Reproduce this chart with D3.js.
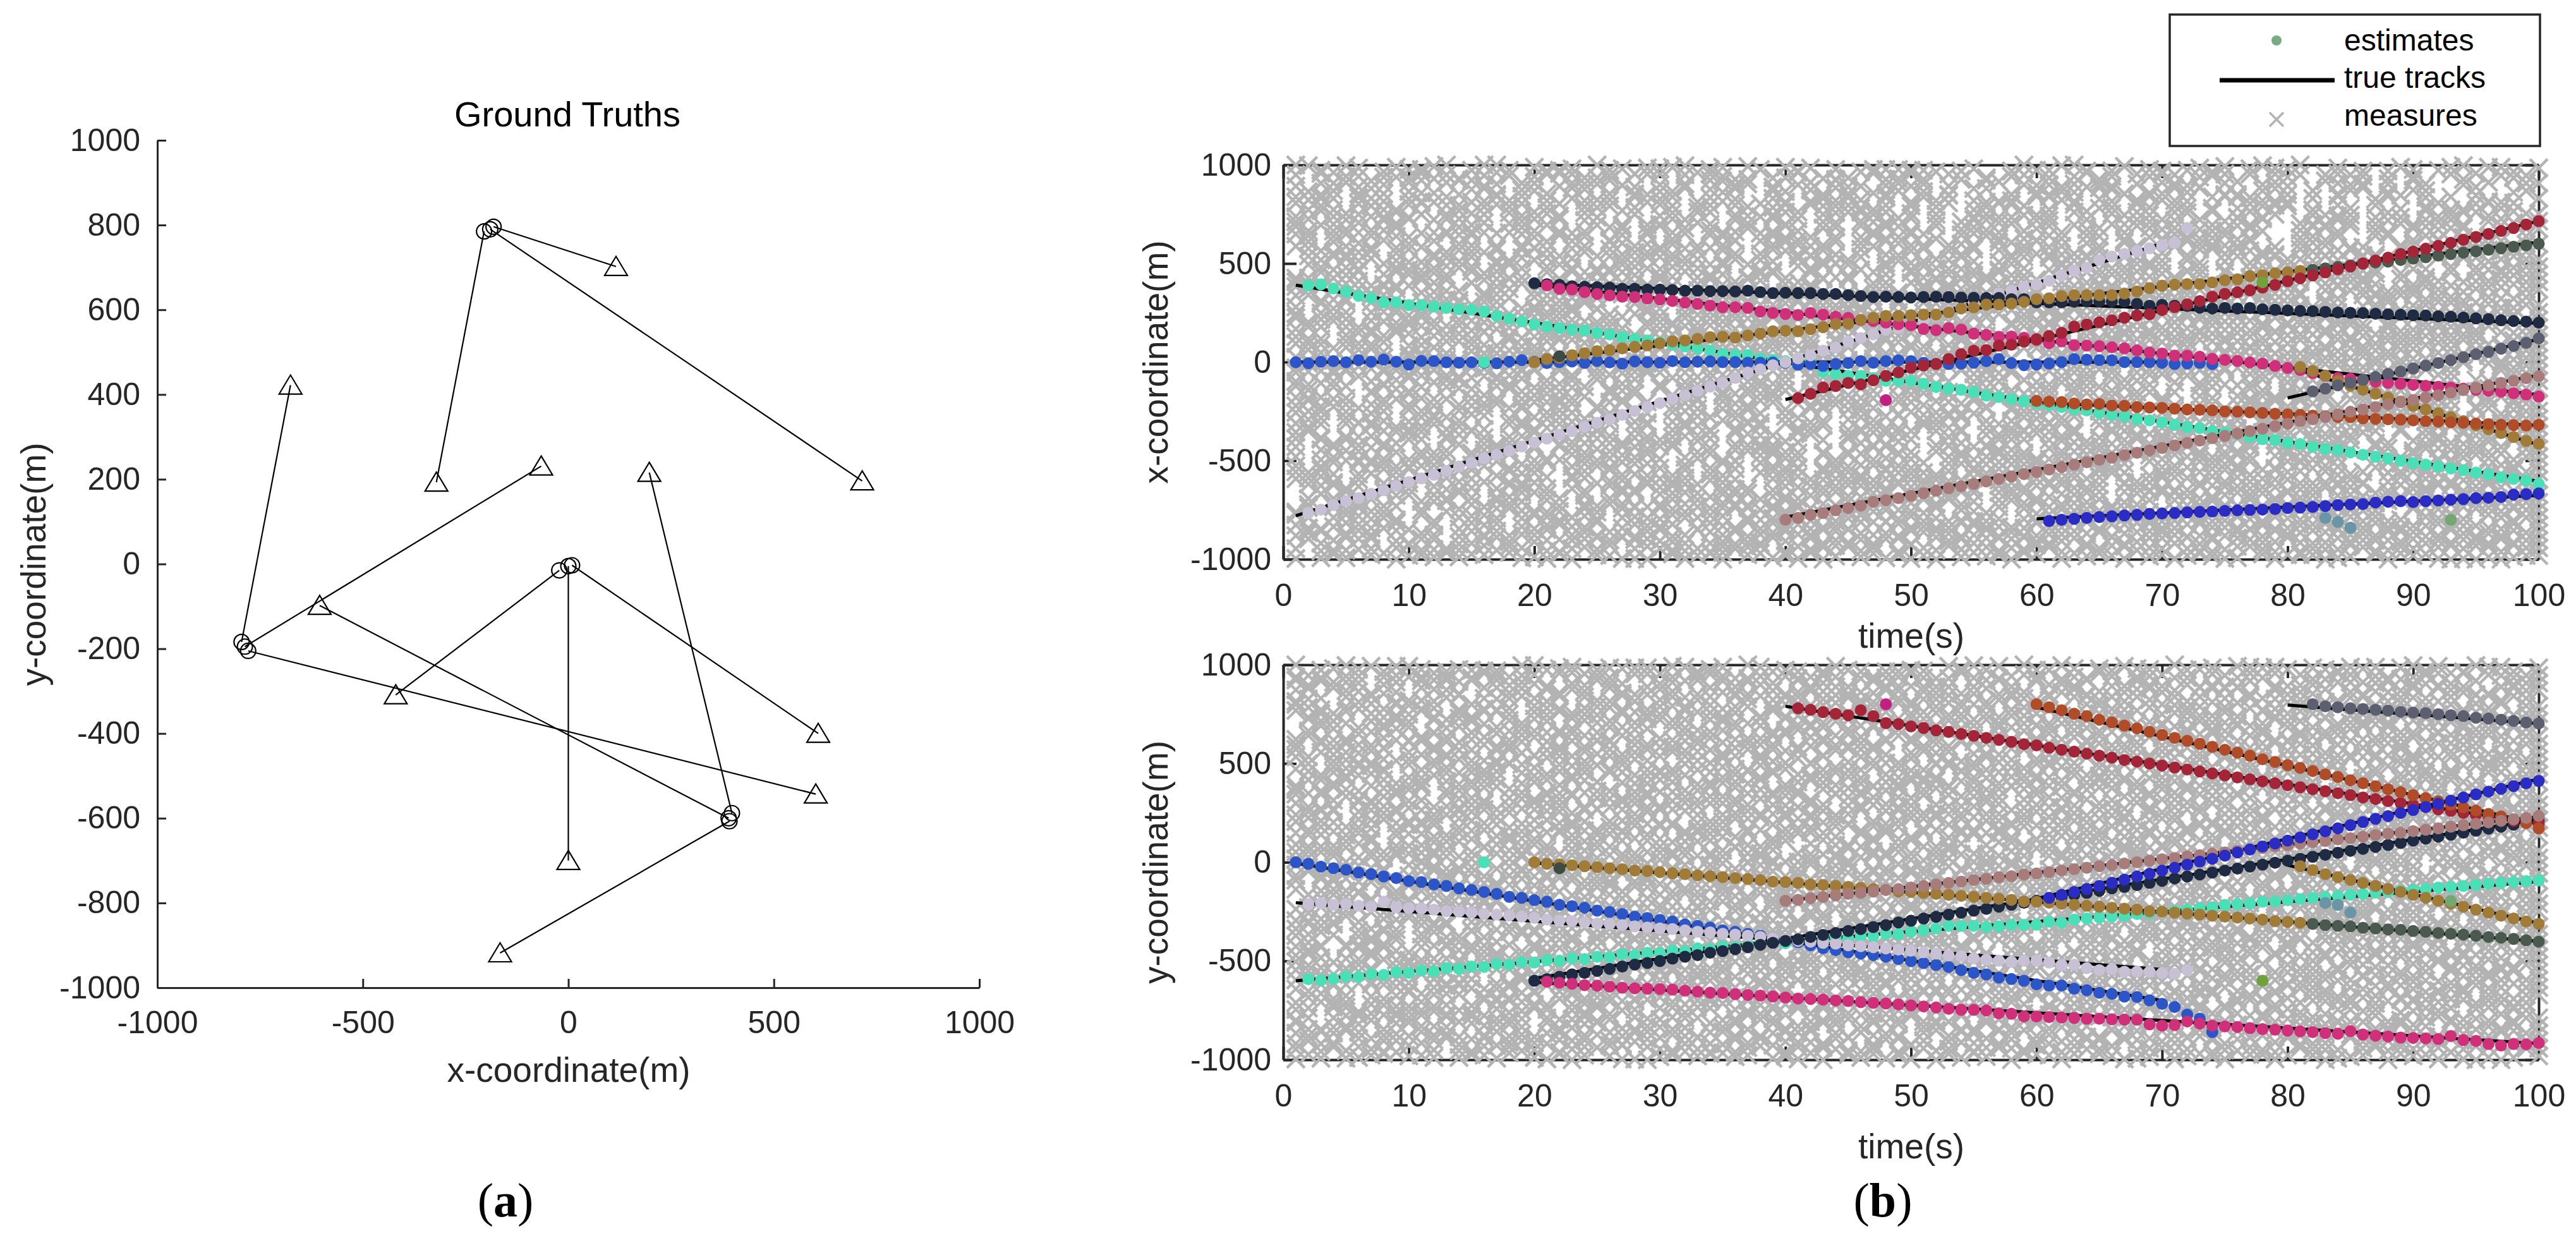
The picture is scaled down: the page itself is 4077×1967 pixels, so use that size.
<!DOCTYPE html>
<html>
<head>
<meta charset="utf-8">
<title>Ground truths and tracking estimates</title>
<script src="https://cdn.jsdelivr.net/npm/d3@7"></script>
<style>
  html, body { margin: 0; padding: 0; background: #fff; }
</style>
</head>
<body>
<script>
// ---------- data ----------
const gtXTicks = [-1000, -500, 0, 500, 1000];
const gtYTicks = [-1000, -800, -600, -400, -200, 0, 200, 400, 600, 800, 1000];
const timeTicks = [0, 10, 20, 30, 40, 50, 60, 70, 80, 90, 100];
const coordTicks = [-1000, -500, 0, 500, 1000];

// true tracks: birth/death time, start (circle) and end (triangle)
const truthBirth = [1, 1, 1, 20, 20, 20, 80, 40, 60, 40, 60, 80];
const truthDeath = [100, 70, 70, 100, 100, 100, 100, 100, 100, 100, 100, 100];
const truthX0 = [390, 0, -779, 398, 392, 9, -22, -190, -205, -787, -795, -182];
const truthY0 = [-600, -5, -205, -588, -607, -3, -15, 790, 785, -195, -184, 796];
const truthX1 = [-605, 0, 602, 197, -166, 608, -420, 715, -321, -66, -676, 116];
const truthY1 = [-98, -700, -543, 216, -918, -400, -309, 196, 193, 231, 422, 702];

// estimate series (one colour each), first time step and values per step
const estColor = ["#49dfb7", "#2c56c8", "#c8c0d4", "#1e2b42", "#d0307a", "#a17c38", "#4b5a4e",
                  "#a17c38", "#a42537", "#b04d28", "#a87c7a", "#2a2cc4", "#5b5f70"];
const estFirstT = [2, 1, 2, 20, 21, 20, 82, 81, 41, 60, 40, 61, 82];
const estX = [
  [389,394,373,357,336,325,303,303,289,289,282,275,268,266,257,234,221,207,191,180,
   172,165,160,148,140,128,118,110,100,88,80,70,
   58,42,36,36,18,12,5,-6,1,-49,-60,-70,-70,-81,-95,-95,-95,-110,-127,-135,-140,-151,-170,-177,-188,
   -198,-210,-218,-228,-238,-245,-258,-268,-275,-290,-296,-305,-318,-330,-335,-350,-358,-365,-380,-390,
   -396,-410,-415,-430,-440,-446,-458,-470,-480,-488,-500,-512,-520,-530,-540,-548,-560,-570,-585,-592,-600,-618],
  [-1,-6,2,5,-1,10,2,13,2,-12,6,5,-1,-3,-1,-3,-6,2,10,
   2,-5,0,3,-4,6,-2,-8,4,0,-3,5,-1,2,
   4,0,0,-3,-3,-2,-3,-14,-10,-19,-10,-5,5,-3,5,9,5,-4,-9,
   -10,-8,-3,5,15,-5,-15,-12,-7,0,15,12,10,10,0,0,0,-4,-10,-7,-4,-10],
  [-765,-748,-725,-705,-690,-668,-650,-628,-608,-590,
   -572,-552,-530,-510,-488,-470,-450,-428,-408,-388,
   -368,-350,-328,-308,-290,-268,-248,-228,-208,-186,-168,-146,
   -124,-106,-80,-53,-37,-16,0,19,34,58,74,104,122,140,164,172,
   190,215,235,258,278,300,325,
   346,362,381,394,413,439,464,478,517,535,549,563,578,592,605,680],
  [400,395,392,385,382,380,378,372,372,368,
   368,365,362,362,360,360,358,362,355,350,
   352,350,350,345,345,340,335,330,332,330,328,330,332,
   330,328,326,325,325,319,320,303,303,303,306,308,308,308,306,296,286,290,286,285,276,272,275,272,274,268,
   265,262,260,258,255,252,250,248,245,242,240,238,236,232,230,226,222,218,212,208,205,200],
  [389,372,368,355,345,338,332,330,322,318,310,302,295,
   287,278,278,275,256,249,244,239,249,241,230,224,213,209,200,192,187,168,162,
   172,165,144,138,128,130,123,112,96,105,86,84,81,75,70,59,49,43,33,33,27,17,11,6,-2,-8,
   -20,-30,-40,-55,-70,-80,-85,-92,-100,-105,-110,-115,-120,-125,-130,-135,-140,-145,-150,-158,-165,-175],
  [0,15,22,35,45,55,60,70,78,85,95,105,110,118,
   127,129,124,135,145,156,159,156,167,177,193,195,215,225,234,234,238,241,241,252,272,277,
   292,292,297,305,319,324,335,340,340,340,340,348,358,375,388,393,396,396,404,415,420,436,441,450,455,462],
  [468,475,482,490,500,505,510,518,525,532,540,548,555,562,570,578,585,592,600],
  [-25,-45,-70,-95,-120,-140,-160,-180,-200,-222,-240,-260,-280,-300,-320,-340,-360,-380,-400,-415],
  [-183,-161,-129,-121,-106,-113,-92,-70,-52,-28,-17,-10,
   15,40,58,61,84,88,104,116,132,148,180,191,202,212,225,237,243,264,279,293,309,332,346,354,364,378,
   392,410,425,440,455,470,485,500,515,530,548,560,575,590,605,620,635,650,665,680,698,715],
  [-197,-200,-203,-210,-215,-212,-220,-222,-228,-230,-232,-236,-240,-242,-245,-250,-252,-255,-258,-262,
   -265,-268,-272,-275,-278,-280,-285,-288,-290,-292,-296,-300,-302,-305,-308,-312,-315,-318,-320,-322,-318],
  [-800,-790,-775,-765,-752,-740,-728,-708,-700,-690,-678,-665,-652,-640,-630,-618,-605,-592,-580,-568,
   -557,-545,-532,-520,-508,-495,-485,-472,-460,-448,-435,-422,-410,-398,-386,-374,-362,-350,-338,-325,
   -313,-300,-290,-278,-265,-252,-240,-228,-215,-204,-192,-180,-168,-155,-142,-130,-118,-106,-95,-82,-72],
  [-806,-800,-795,-790,-786,-782,-778,-775,-770,-768,-765,-762,-760,-758,-755,-752,-750,-748,-745,-740,
   -738,-735,-730,-725,-722,-720,-712,-708,-705,-710,-705,-702,-698,-695,-690,-688,-684,-672,-670,-666],
  [-148,-135,-118,-105,-90,-75,-60,-48,-32,-18,-5,10,25,40,52,68,82,98,120]
];
const estY = [
  [-592,-598,-590,-578,-580,-566,-570,-556,-560,-548,-552,-536,-540,-528,-530,-515,-518,-505,-508,-496,
   -498,-486,-490,-478,-480,-466,-470,-458,-460,-447,-450,-436,-440,-426,-430,-418,-414,-405,-410,-395,
   -398,-388,-380,-385,-372,-375,-362,-365,-352,-345,-335,-322,-322,-322,-327,-325,-317,-317,-317,-301,
   -305,-290,-285,-280,-275,-270,-262,-258,-250,-246,-240,-232,-228,-216,-212,-208,-200,-198,-192,-186,
   -180,-176,-170,-165,-160,-154,-150,-145,-140,-135,-128,-125,-120,-114,-108,-104,-100,-95,-92],
  [0,-8,-22,-30,-38,-52,-60,-72,-80,-95,-100,-112,-120,-132,-140,-150,-160,-175,-180,-192,
   -200,-215,-222,-230,-245,-252,-262,-275,-282,-292,-300,-315,-322,-330,-345,-352,-362,-372,-385,-395,
   -405,-420,-435,-445,-455,-462,-470,-478,-490,-500,-510,-520,
   -530,-546,-560,-568,-584,-591,-600,-618,-624,-624,-640,-648,-661,-666,-680,-682,-699,-717,-733,-771,-792,-860],
  [-212,-208,-215,-212,-220,-225,-200,-228,-232,-235,-240,-248,-250,-255,-262,-265,-270,-275,-282,-290,
   -295,-298,-305,-310,-312,-318,-325,-330,-335,-338,-345,-352,-355,-362,-366,-372,-378,-385,-392,-398,
   -402,-408,-412,-420,-425,-430,-436,-442,-448,-455,-462,
   -472,-475,-486,-493,-498,-504,-498,-498,-508,-520,-518,-536,-546,-541,-554,-554,-554,-561,-565,-546],
  [-600,-592,-580,-568,-560,-550,-540,-528,-518,-510,-500,-488,-478,-470,-458,-450,-440,-430,-418,-408,
   -398,-390,-378,-368,-358,-348,-338,-328,-318,-305,-296,-285,-276,-265,-255,-245,-236,-225,-215,-205,
   -195,-185,-175,-165,-155,-145,-132,-125,-115,-105,-94,-82,-72,-62,-52,-42,-32,-22,-12,-2,
   8,18,28,38,48,58,68,78,88,98,110,120,130,140,150,160,170,180,190,200,210],
  [-605,-610,-615,-622,-625,-630,-635,-638,-640,-642,-645,-650,-655,-660,-662,-668,-672,-675,-680,-685,
   -690,-692,-695,-700,-702,-708,-712,-715,-720,-725,-730,-735,
   -742,-747,-747,-750,-765,-767,-781,-781,-784,-786,-788,-792,-792,-795,-797,-797,-821,-827,-824,-806,
   -817,-827,-831,-834,-840,-845,
   -848,-852,-856,-860,-865,-868,-855,-872,-878,-882,-888,-890,-892,-895,-880,-900,-905,-920,-928,-920,-922,-915],
  [0,-8,-10,-15,-20,-25,-30,-35,-42,-45,-50,-55,-60,-66,-70,-75,-80,-85,-90,-98,
   -100,-105,-112,-115,-120,-125,-130,-135,-140,-148,-150,-155,-160,-165,-170,-175,-180,-185,-190,-198,
   -200,-205,-210,-215,-220,-225,-230,-235,-240,-248,-250,-255,-260,-265,-270,-275,-280,-285,-290,-298,-302,-306],
  [-312,-318,-322,-325,-332,-335,-340,-342,-348,-352,-358,-362,-366,-372,-378,-382,-388,-395,-402],
  [-20,-40,-60,-75,-90,-105,-120,-135,-150,-165,-180,-195,-210,-225,-240,-255,-270,-285,-300,-312],
  [780,772,760,752,745,770,740,705,700,688,680,668,660,650,640,630,620,610,598,592,
   580,570,560,550,540,530,518,510,500,490,480,470,460,450,440,430,420,410,400,390,
   380,370,360,350,340,328,320,310,300,290,280,268,260,250,240,230,220,210,200,195],
  [800,785,770,752,740,722,708,692,678,660,645,630,615,600,585,570,555,540,522,508,
   492,478,462,445,432,415,400,385,370,355,340,325,308,292,278,262,245,232,218,200,172],
  [-195,-190,-182,-175,-168,-160,-155,-148,-140,-135,-128,-120,-112,-105,-98,-90,-84,-76,-70,-62,
   -57,-50,-42,-35,-28,-20,-14,-6,0,8,15,22,30,36,44,50,58,65,72,80,
   87,95,102,108,116,122,130,138,145,150,158,165,172,180,188,195,202,210,218,225,235],
  [-180,-165,-150,-135,-120,-104,-88,-72,-58,-42,-28,-12,3,18,34,50,65,80,95,110,
   126,142,157,172,188,204,220,234,250,265,280,296,312,328,344,358,372,386,400,412],
  [800,790,785,780,776,772,768,762,758,755,750,745,740,732,728,722,716,708,703]
];

// isolated estimates (false or relabelled)
const outT = [16, 22, 48, 78, 83, 84, 85, 93];
const outX = [0, 30, -193, 405, -790, -810, -840, -800];
const outY = [0, -30, 800, -600, -206, -216, -255, -196];
const outColor = ["#49dfb7", "#3e4b44", "#c21f82", "#70a23c", "#6a95a6", "#6a95a6", "#6a95a6", "#74a870"];

// measures per time step (t = 1..100): one letter = coarse level, matching digit = sub-level
const LEVELS = "abcdefghijklmnopqrstuvwxyzABCDEFGHIJKLMNOPQRSTUVWXYZ";
const measXByStep = [
"abdefgklmnopqrtuvwxyzACDEFGHIJKLPQRSTUVXYZ","cdeefghijklqrstuvwxyzABCDEFIJKLMNOPQRSUVWZ",
"abcdeijklmnopqrstuvxyBCDEFGHIJKLMNOSTUVWXYZ","abcefghijklmnopuvwxyzABFGHIJLMNOPQRSTUVWXY",
"abcdefghijnopqrstuvwyzABCDEFGHIKLMNOPQRSTXYZ","bcdefghijklmnopqrstyzABCDEJKLMNOPRSTUVWXYZ",
"abcdefghlmnoqrstuvwxzABCDEFGHIJKNOPQRTUVWX","aefghijklmnopqstuvwxyzABCDFGHIJKLMQRSTUVWXYZ",
"abcdefhijklmopqrvwxyzADEFGHIJKLMNOPQRSTUYZ","abcdijklmnpqrstuvwxyzABCDEFGKLMNOPQSTUVWXYZ",
"abcdfghkmnopqrstvwyzzABCDEFGHJKLMNPQTUVWXYZ","abcdeefhijlmnorstuvxyABDEFGHIJKLMNOPRSVWYZ",
"abghijklmnopqrsvwxyzABCDEHIJKLMNOQRSTUVXYZ","abcdefgijklpqrstuwxyzACDEFGHIJMNOPQRSTUWXY",
"acdefhijklmnoqrtuvwxzzBCDEFGHKLMNOPQRSTVWXZ","abcdefgkmnopqrstuvyzABCDEFGHIJKLORSTUVWXYZ",
"bcdefghijlmnopuvwxyzABCEFGHIJKLMNOPQUVWXYZ","abcdghijklmnopqrstwxyzABCDEFGIJKLMNRSTUVYZ",
"abdefghijklmqrstuvwxyzABCDFGHKLMNOPQRSTUVWX","acdefgiklmnopqrsuvwyzAABCDEFGHIJNOPQRSTWXYZ",
"abcdefghijkmnrstuvwxzBCDEFGHIJKLMNOPSTUVWYZ","abcefghinopqrstuvwxyzABCDEFGHIJKMNQRSTUXYZ",
"abcdefjklmnopqstuvwxyACDEFGHIJKLMNOPQVWXYZ","bcdefghijklmnopqrsvwzABCDEFHIJKLOPQRSTUVWXY",
"abcdefghkmnopqrstuxyzABCDEFGHIJKLMNSTUVXYZ","abcdhijklmnopqrstuvwyABCDEFGJKLMNOPQRUVWXYZ",
"acdeefghijklmnoptuvwxyzABCDEFIJKLMNOPQRSTXZ","abcdefghijlmnoqrstvwxyzABCDGHIJKLMNOPTUVWXY",
"abcdefgjklmnopqrstuyzzABCDEFGHIJKMNOPQRSVWYZ","bcdefghijkmnopwxyzABCDEFGHIJKLMNOPRSTUVWXYZ",
"abcdefghijklopqrstuvxABCDEFJKLMNOPQRSTUVWZ","abcdfghijklmnqrstuvwxyzABCDEFGHILMNOQRSWXYZ",
"abdefghijnopqrstuvwxyzACDEFGHIJKLMNOPSTUVY","abcdefgiklmnopqrsxyzABCDEFGHIJKLMPQRSTUVWXYZ",
"aabcdefghijklmnstuvwyzABCEFGHIJKLMNOPQRVWXYZ","bcdeghijklmnopqrstuvzABDEFGHIJKNOPQRSTUVWXY",
"abcdefghijopqrstuvwxyzABCDEFGHIJKLMRSTUXYZ","abcdefghlmnopqrstuvwxyABCDEFGHIJKLMNOPQTUZ",
"acdefghijklmnopquvwxyzABCDFGHIJLMNOPQRSTUVWXY","abcdefghijklmnoprstwxyzBCDEFGHIJKLOPQRSTUVWYZ",
"abdefghijklmnopqrsuvzABCDEFGHIJKMNOPQRSTXYZ","abcdefgijkqrstuvwxyzABCDEFGHIJKLMNOPQUVWXZ",
"abcdefhijklmnoprstuvwxyzABEFGHIJKLMNOPRSTUVWY","abcdefghijklmnuvwxyzABCDEFGHLMNOPQRSTUVWXYZ",
"bcdefghijklmnopqrstuvxyzABCDEFGHIJKLMNTUVWXY","abcdefgijklmnpqrstuvwyzACDEFGHIJMNOPQRSTUVXZ",
"abcdeghijkmnopqrstvwxyzABCDEFGHIJKLPQRSTUWYZ","acdefghijklmnopqrsyzABCDEFGIJKLMNOPQRSTUVWXYZ",
"abcdefgjklmnopqrstuvwxzABCDEFGHIJNOPQRSWXYZ","abcdefghijklmnopqtuvwxyABCDEFKLMNOPQRSTUVXYZ",
"abdefghijklmrstuvwxyzABCDEFGHIJKLMNOPQVWXYZ","abcdefghijklopqrstuwxyzABDEFGHIJKLMNQRSTUVZ",
"bcdefhijklmnopqrstuvwxzABCDEFGHIJKLMNOPUVWXY","abcdefghijkmnopqrstuyzABCDEFHIJKLMNOPQRSYZ",
"acdefghijklmnotuvwxyzABCDEFGHIJKLMNOPQRSTUVWZ","abcdefgklmnopqrstuvwxyzABCDEFGHIJKLQRSTUVWXY",
"abcdefghijklmnopqrvwxyzABCDGHIJKLMNOPQRSTUVX","abcdehijklmnopqrstuvwyzACDEFGHIJKLMNOPSTUVWYZ",
"abcdefghijlmnopqrstuvxBCDEFGHIJKLMNOPQRTUXYZ","abcdefghijklmnqrstuvwxyzABCDEFGHIJKOPQRSTVWXZ",
"bcdefgijklmnopqrstuvwxyABCDEFGHMNOPQRSTUVWXYZ","abcdefghijklmnopqrsxyzABCDEFGHIJKLMNOPQRVWXZ",
"acdefghijklmopqrstuvwxyzABCEFGHIJKLMNOSTUVWXYZ","abcdefghijkmnopuvwxyzABCDEFGHIJKLMNOPQRSTXYZ",
"abdefghijklmnopqrstuvwzABCDEFGIJKLMNOPQRUVWXY","abcdefghlmnopqrstuvwxyzABCDEFGHIJKLMSTUVWXYZ",
"abcdefghijklmnopqrstvwxABCDEFHIJKLMNOPQRSTWZ","bcdefghijkopqrstuvwxyzABCDEFGHIJKLMNOPRSTUVXY",
"abcdefghijklmnopqwxyzABCDEFGHIJKLMNQRSTUVWYZ","abcdefgijklmnopqrstuvyzABCDEGHIJKLMNOPQRSVWXYZ",
"acdefghijklmnopqrstuwxyzABCDEFGHIJKLPQRSTUVWXY","abcdefghijkmnopqrsyzABCDEFGHIJKLMNOPQRTUVWXZ",
"abcdefghijklmnostuvwxyzACDEFGHIJKLMNOPQRSWXYZ","abcdefghijklmnpqrstuvwxyzABCDEFGHIJOPQRSTUVYZ",
"abdefghijklmnopqrstxyzABCDEFGHIJKLMNOPQRSVWXYZ","abcdefghijklmnopqrstuvwzABCDEFGHIJKNOPQRSTUVWX",
"bcdefghijklmnopqtuvwxyzABCDEFGIJKLMNOPQRSTUVYZ","abcdefghijklpqrstuvwxyzABCDEFGHIJKLMNORSTUVWXZ",
"abcdefghijklmnopqrstuvyABCDEFGHIJKLMNOPTUVWXYZ","acdefghijklmnopqrstuvwxyzABCDEFGHIJKLMNUVWXYZ",
"abcdefghijklmnorstuvwxyzABCDEFGHIJKLMNOPQRSYZ","abcdefghijkmnopqrstuvwxyzABCDEFGHLMNOPQRSTUVW",
"abcdefgjklmnopqrstuvwxyzABCDEFGHIJKLMNOPQRSTXY","abcdefghijklmnopqrstuzABCDEFGHIJKLMNOQRSTUVWXYZ",
"abcdefghijklopqrvwxyzABCDEFGJKLMNOPRSTUWXY","bcdefghijklqrstuvwxyzABCDEFHIJKLMNOPWXYZ",
"abcdefghimnopqrstuwxyzABCDGHIJKLMNOQRSTUV","abcdefhijklmnopstuvwxyABCDEFGHIJQRSTVWXYZ",
"abcdefhijklmnqrstuvwxyzABCDEFGIJKLOPSTUVZ","abcdeghijklmnopstuvyzABCDEFGHIJKMNOPQRSWXYZ",
"acdefghijklmopqrstuvwzACDEFGHIJKLMQRSTUVWX","abcdefgjklmnopqrstuvyzABCDEFGHIJKNOPQRSTUZ",
"abcdefghijkmnoprstuwxyzABCDEFGHIKLMRSTUVYZ","abcdefghijklmnopqrswzABCDEFGHIJKNOPQRSTUXYZ",
"abcdeghijklnopqrstuvwxABCDEFGHJKLMNOPQTUVXY","abcdefghijkmnopqrtuvwxzABCEFGHIJKMNOPQSTUVXZ",
"abcdefghjklmnoqrstvwxyzABCDFGHIJKLMNOPRSUVYZ","abcdefghijlmnpqrstuvwxyzABCDFGHIKLMNOPSTUWYZ",
"abcdfghijklnopqrstuvwyzABCDEFHIJKLMNOPQRTWXY","abcdefghiklmnopqrstuwxyzABCDEFGHJKLMNPRSTVXZ"
];
const measYByStep = [
"abcdefghjklmnoqrstwxyzABCDFGHIJKMNOPQTUVWXYZ","acdefgijklmnopqrstuvyzABCDEFGHJKLMNQRSTUVWXY",
"abcdehijklmnopqrsuvwxyBCDEFGHIJKLOPQRSTUVXYZ","bcdefghijklmqrstuvwxyzABCEFGHIJKLMNOPQRSTWXZ",
"abdefghijlmnopstuvwxyzABCDEIJKLMNOPQSTUVWXYZ","abcdefgklmnopqrstuvwxzACDEFGHIJLMNOPQRUVWXYZ",
"abcfghijklmnopqrtuvxyzABCDEFGHIKLMNOPRSTUVWZ","abcdefhijknopqrstvwxyzABFGHIJKLMNOPQRSTUWXYZ",
"bcdefghijklmnopqrstuvwABCDEFGHIJKNQRSTUVWXYZ","abdefghijklmnostuvwxyzBCDEFHIJKLMNOPQRSTUVYZ",
"acdefghilmnopqrstuwxyzABCDEFGIJKLMOPQTUVWXYZ","abcdeghijklmnpqrsvwxyzABCDEFGHLMNOPQRSTUVWXY",
"cdefghijklnopqrstuvxyzABCDGHIJKLMNOPQRSVWXYZ","abcdfgijklmnopqtuvwxyzACDEFGHIJKLNOPRSTUVWXZ",
"abcefghjklmopqrstuvwyzABDEFGHIJKLMNOQRSTUXYZ","abcdefhijmnopqrstuvwxyABCEFGHIJKLMNPQSTUVWYZ",
"abdefghijklmnoprsuvwxzBCDEFGJKLMNOPQRTUVWXYZ","abcdefghijklmnpqrstxyzABCDEGHIJMNOPQRSTUVWXY",
"bcdefghiklmnoqrtuvwxyzABCDEFHIJKLMOPQRSVWXYZ","abcdghijklnopqrstuvwyzACDEFGHIKLMNOQRSTUVXYZ",
"acdefghjklmnopqstuvwxyABCDFGHIJKLNOPRSTUVWXZ","abcdefijklmopqrstuwxyzBDEFGHIJKLMNOPQRTUVWYZ",
"abcefghijkmnopqrsuvxyzABCDEFGIJKLMNPQRSTWXYZ","abcdefghijlmnprstuvwxzABCEFGHJKLMNOPQSTUVWXY",
"bdefghijklmnopqrtvwxyzABCDEGHIJKMOPQRSTUVXYZ","abcdfghiklnoqrstuvwxyzACDEFHIJLMNOPQRSUVWXYZ",
"abcdeghjklmnopqrstuvwyABCDEFGHIKLMNOQRTUVWXZ","acdefghijkmnopqstuwxyzABDEFGHIJKLNOPQRSTVWYZ",
"abcdefhijklmpqrsuvwxyzBCDFGHIJKLMNOPRSTUWXYZ","abcefgijklmnopqrstuvxzABCDEFGHJKLMNPQSTUVWXY",
"abdefghijlmnoprtuvwxyzABCEFGIJKLMOPQRSUVWXYZ","bcdefghijklnopqrstvwyzABCDEGHIJLMNOPQRSTUVXZ",
"abcdfghjklmnoqrstuvwxyACDEFGHIJKMNOPQRTVWXYZ","abcdeghiklmnpqrstuwxyzABCDEFHIJKLNOQRSTUVWYZ",
"acdefhijklmnopqsuvwxyzABDEFGHIKLMNOPRSTUWXYZ","abcdefgijkmopqrstuvwxzBCDFGHIJKLMNPQRSTUVWXY",
"abcefghijlmnopqrtuvxyzABCDEFGHJKLMOPQSUVWXYZ","bcdfghijklmnoprstvwxyzABCEFGIJKLMNOPQRSTVXYZ",
"abdefghjklnopqrstuvwyzABCDEGHIJLMNOPQRTUVWXZ","abcdefhijklmnqrstuvwxyACDEFGHIJKMNOQRSTUVWYZ",
"abcdeghiklmnopqrsuwxyzABDEFHIJKLNOPRSTUVWXYZ","acdefgijklmnopqstuvwxzABCDEFGHIKLMNPQRSTUWXY",
"abcefghijkmopqrstuvxyzBCDFGHJKLMNOPQRSUVWXYZ","bcdefghijlmnopqrtvwxyzABCDEFGIJKLMOPQSTUVXYZ",
"abcdfghjklmnoprstuvwyzABCEFGHIJLMNOPQRSTVWXZ","abdefhijklmnpqrstuvwxyACDEGHIJKLMNOPQRTUVWYZ",
"abcdefgijklnoqrsuvwxyzABCDEFHIJKMNOPRSTUVWXY","acdeghijklmnopqstuwxyzABDEFGHJKLNOPQRSTUWXYZ",
"abcdefghiklmopqrstuvxzBCDEFGHIJKLMNQRSUVWXYZ","abcfghijklmnopqrtuvwyzABCDFGHIKLMNOPQSTUVXYZ",
"bcdefhijkmnopqstuvwxyzACDEFGIJKLMOPQRSTVWXYZ","abdefgijklmnpqrstuvxyzABCEFGHJKLMNOPQRTUVWXY",
"abcdfghijlmnopqrsuvwxzABCDEGHIJKMNOPRSTUVXYZ","acdefghjklmnoprstvwxyzBCDEFGHIKLMNPQRSTUVWYZ",
"abcdeghijklnopqrtuvwxyABDEFHIJKLMNOPQRSUWXYZ","abcefghiklmnoqrstuvwyzABCDFGHIJLMNOPQSTUVWXZ",
"bcdefghijklmpqrstuwxyzACDEFGHIJKLNOQRSTVWXYZ","abcdefhijkmnopqstuvwxzABCDEFGJKLMNOPQRTUVWXY",
"abdfghijklmnopqrsuvxyzABCEFGHIJKLMOPRSTUVWYZ","abcdefgijlmnoprstuvwxyBCDEGHIJKLMNPQRSTUVXYZ",
"acdefghijklnopqrtvwxyzABCDEFHIKLMNOPQRSUVWXZ","abcefghjklmnpqrstuvwyzABDEFGHIJKMNOPQSTUWXYZ",
"abcdeghiklmnoqrstuwxyzABCDFGHIJLMNOQRSTVWXYZ","bcdefghijkmnopqstuvwxzACDEFGIJKLNOPQRSTUVWXY",
"abcdfhijklmopqrstuvxyzABCDEFGHJKLMNPQRTUVWYZ","abdefghijlmnopqrsuvwxyABCEGHIJKLMNOPRSTUVXYZ",
"acdefgijklmnoprstvwxyzBCDEFGHIKLMOPQRSTUVWXZ","abcdefghjklnopqrtuvwyzABCDEFHIJKMNOPQSTVWXYZ",
"abceghijklmnpqrstuwxyzABDEFGHIJLMNOQRSUVWXYZ","bcdefghiklmnopqstuvwxzABCDFGIJKLMNOPQRSTUWXY",
"abcdefhijkmnoqrstuvxyzACDEFGHIJKLNOPQRTUVWYZ","abcdfghijlmopqrsuvwxyzABCDEGHJKLMNPQRSTUVXYZ",
"adefghijklmnoprstuvwxyABCEFGHIKLMNOPQSTUVWXZ","abcdefgijklnopqrstvwyzBCDEFHIJKLMOPQRSTVWXYZ",
"abcefghjklmnopqrtuwxyzABDEFGHIJKMNOQRSTUVWXY","bcdeghijklmnpqrstuvwxzABCDEFGIJLMNOPRSTUWXYZ",
"abcdefhiklmnopqstuvxyzACDFGHIJKLMNOPQRUVWXYZ","abdefghijkmopqrsuvwxyzABCDEFGHJKLNOPQRSTUVYZ",
"abcdfghijklnoqrstuvwxyBCDEGHIJKLMNPQSTUVWXYZ","acdefgijklmnopqrtuvwyzABCEFGHIKLMNOPQRSTVWXZ",
"bcdefghjklmnpqrstvwxyzABDEFHIJKLMOPQRSTUVWXY","abcefhijklmnoprstuvwxzABCDEFGIJKMNOPQRTUWXYZ",
"abcdeghijklnopqstuvxyzACDEFGHIJLMNOQRSTUVWYZ","abdefghiklmopqrstuwxyzABCDFGHJKLMNOPQRSUVXYZ",
"acdefghijkmnopqrsuvwxyBCDEFGHIJKLNOPRSTVWXYZ","abcdfgijklmnoqrstuvwyzABCDEGHIKLMNPQRSTUVWXZ",
"bcdefghijlmnopqrtuvwxzABCEFHIJKLMNOPQSTUWXYZ","abcdefhjklmnpqrstvwxyzABDEFGHIJKMOPQRSTUVWXY",
"abcefghijklnoprstuvxyzACDEFGIJKLMNOPQRTUVWYZ","abdeghijklmnopqstuwxyzABCDFGHIJLMNOQRSUVWXYZ",
"acdefghiklmopqrstuvwxyBCDEFGHJKLMNOPRSTUVXYZ","abcdfghijkmnopqrsuvwyzABCDEGHIJKLNPQRSTVWXYZ",
"bcdefgijklmnoqrstuvwxzABCEFGHIKLMNOPQSTUVWXY","abcdefhijlmnopqrtuvxyzABDEFGHIJKMOPQRSTUWXYZ",
"abcefghjklmnpqrstvwxyzACDEFGHIJKMNOPQRTUVWXZ","abdefghijklnoprstuvwxyABCDEFGIJLMNOQRSTUVWYZ",
"acdeghijklmnopqstuvwyzBCDFGHIJKLMNOPQRSUVXYZ","abcdefghiklmopqrsuwxyzABCDEFGHJKLNOPRSTVWXYZ",
"bcdfghijkmnopqrstuvwxzABCEGHIJKLMNPQRSTUVWXY","abcdefijklmnopqrtuvxyzABDEFGHIKLMNOPQSTUWXYZ"
];
const measFineByStep = [
"1415926535897932384626433832795028841971693993","7510582097494459230781640628620899862803482534",
"2117067982148086513282306647093844609550582231","7253594081284811174502841027019385211055596446",
"2294895493038196442881097566593344612847564823","3786783165271201909145648566923460348610454326",
"6482133936072602491412737245870066063155881748","8152092096282925409171536436789259036001133053",
"0548820466521384146951941511609433057270365759","5919530921861173819326117931051185480744623799",
"6274956735188575272489122793818301194912983367","3362440656643086021394946395224737190702179860",
"9437027705392171762931767523846748184676694051","3200056812714526356082778577134275778960917363",
"7178721468440901224953430146549585371050792279","6892589235420199561121290219608640344181598136",
"2977477130996051870721134999999837297804995105","9731732816096318595024459455346908302642522308",
"2533446850352619311881710100031378387528865875","3320838142061717766914730359825349042875546873",
"1159562863882353787593751957781857780532171226","8066130019278766111959092164201989718281828459",
"0452353602874713526624977572470936999595749669","6762772407663035354759457138217852516642742746",
"6391932003059921817413596629043572900334295260","5956307381323286279434907632338298807531952510",
"1901157383418793070215408914993488416750924476","1460668082264800168477411853742345442437107539",
"0777449920695517027618386062613313845830007520","4493382656029760673711320070932870912744374704",
"7230696977209310141692836819025515108657463772","1112523897844250569536967707854499699679468644",
"5490598793163688923009879312414213562373095048","8016887242096980785696718753769480731766797379",
"9073247846210703885038753432764157273501384623","4071836259904172635811903746285529017364820193",
"6620948173305917284469012837750391862244071953","8813025947761350298846710293358176042991834607",
"2958470316629403751188264093571702846193355028","5047193826640315987221086394475120683917704265",
"1736482059913047265830018472935566140287391045","9382017465520938461177304958261839024716650382",
"0619283745508176293341098275643190827364455019","4857302196673041928855602374190184736529903746",
"7290416385528193047766182903457201938476610293","3164980275049381762253607194823018864957231076",
"8502931764418075392260948173559063827144028395","2749051836703916284451829307645501928376612039",
"6081735924380562917497310648257213064895513072","1908273465530218947760319285447106382955018274",
"5563019284477103982651209374855016293874402165","0297148365512097438816630294577180352964420183",
"8441092736659013827704561293388071524639901725","3370815294466038172591048273366902815744019362",
"9125036847701829364458017293665140283977102845","4689201735580432916677102843955018263744089216",
"6180339887498948482045868343656381177203091798","0576286213544862270526046281890244970720720418",
"9391137484754088075386891752126633862223536931","7931800607667263544333890865959395829056383226",
"6131992829026788067520876689250171169620703222","1043216269548626296313614438149758701220340805",
"8879544547492461856953648644492410443207713449","4704956584678850987433944221254487706647809158",
"8460749988712400765217057517978834166256249407","5890697040002812104276217711177780531531714101",
"1704666599146697987317613560067087480710131795","2368942752194843530567830022878569978297783478",
"4587822891109762500302696156170025046433824377","6486102838312683303724292675263116533924731671",
"1121158818638513316203840052221657912866752946","5490681131715993432359734949850904094762132229",
"8101726107059611645629909816290555208524790352","4060201727997471753427775927786256194320827505",
"1312181562855122248093947123414517022373580577","2786160086883829523045926478780178899219902707",
"7690389532196819861514378031499741106926088674","7320508075688772935274463415058723669428052538",
"1038062805580697945193301690880003708114618675","6931471805599453094172321214581765680755001343",
"6025525412068000949339362196969471560586332699","6418687542001481020570685733685520235758130557",
"0326707516350759619307275708283714351903070386","2389167347112335011536449795523912047517268157",
"4932065155524734139525882950453007095326366642","6541042391578149520437404303855008019441706416",
"7151864471283996817178454695702627163106454615","0257207402481637773389638550695260668341137273",
"8737229289564935470257626520988596932019650585","5476470330679365443254763274495125040606943814",
"7104689946506220167720424524529612687946546193","1651746813926725041038025462596568691441928716",
"0829380317271436778265487756648508567407764845","1464439940461422603193096735402574446070308096",
"0850474866385231381816767514386674766478908814","3714198549423151997354880375165861275352916610",
"0071053558249879414729509293113897155998205654","3928717000721808576102523688921324497138932037"
];

// ---------- drawing ----------
const W = 4077, H = 1967;
const INK = "#262626";
const SANS = '"Liberation Sans", Arial, Helvetica, sans-serif';
const SERIF = '"Liberation Serif", "Times New Roman", Times, serif';
const CLUTTER = "#b3b3b3";

const svg = d3.select("body").append("svg")
  .attr("width", W).attr("height", H)
  .style("display", "block");
svg.append("rect").attr("width", W).attr("height", H).attr("fill", "#fff");

// letter = coarse level (0..51), digit = tenth of a level
function decodeMeasures(coarse, fine) {
  const out = [];
  Array.from(coarse).forEach((c, i) => {
    const lv = LEVELS.indexOf(c);
    if (lv < 0) return;
    const f = fine && i < fine.length ? +fine[i] : 5;
    out.push(-1000 + (lv + f / 10) * 2000 / (LEVELS.length - 0.1));
  });
  return out;
}

function styleAxis(g, width, fontSize) {
  g.attr("font-family", SANS).attr("font-size", fontSize);
  g.select(".domain").attr("stroke", INK).attr("stroke-width", width);
  g.selectAll(".tick line").attr("stroke", INK).attr("stroke-width", width);
  g.selectAll(".tick text").attr("fill", INK);
}

function label(x, y, txt, size, rotate) {
  return svg.append("text")
    .attr("transform", `translate(${x},${y})` + (rotate ? " rotate(-90)" : ""))
    .attr("text-anchor", "middle")
    .attr("font-family", SANS).attr("font-size", size).attr("fill", INK)
    .text(txt);
}

// ----- (a) ground truths -----
const xL = d3.scaleLinear().domain([-1000, 1000]).range([249, 1550]);
const yL = d3.scaleLinear().domain([-1000, 1000]).range([1563, 222]);

svg.append("g").attr("transform", `translate(0,${yL(-1000)})`)
  .call(d3.axisBottom(xL).tickValues(gtXTicks).tickSizeInner(-14).tickSizeOuter(0)
    .tickPadding(36).tickFormat(String))
  .call(g => styleAxis(g, 3, 50));
svg.append("g").attr("transform", `translate(${xL(-1000)},0)`)
  .call(d3.axisLeft(yL).tickValues(gtYTicks).tickSizeInner(-14).tickSizeOuter(0)
    .tickPadding(27).tickFormat(String))
  .call(g => styleAxis(g, 3, 50));

const idx = truthX0.map((_, i) => i);
const gGT = svg.append("g").attr("stroke", "#000").attr("stroke-width", 2.2).attr("fill", "none");
gGT.selectAll("line").data(idx).join("line")
  .attr("x1", i => xL(truthX0[i])).attr("y1", i => yL(truthY0[i]))
  .attr("x2", i => xL(truthX1[i])).attr("y2", i => yL(truthY1[i]));
gGT.selectAll("circle").data(idx).join("circle")
  .attr("cx", i => xL(truthX0[i])).attr("cy", i => yL(truthY0[i])).attr("r", 12);
gGT.selectAll("path").data(idx).join("path")
  .attr("d", i => {
    const x = xL(truthX1[i]), y = yL(truthY1[i]);
    return `M${x},${y - 16}L${x + 18},${y + 14}L${x - 18},${y + 14}Z`;
  });

svg.append("text").attr("x", 898).attr("y", 200).attr("text-anchor", "middle")
  .attr("font-family", SANS).attr("font-size", 56).attr("fill", "#000").text("Ground Truths");
label(900, 1712, "x-coordinate(m)", 55, false);
label(72, 893, "y-coordinate(m)", 55, true);

// ----- (b) coordinates versus time -----
const tS = d3.scaleLinear().domain([0, 100]).range([2031, 4018]);
const timeSteps = measXByStep.map((_, i) => i + 1);

const panels = [
  { y: d3.scaleLinear().domain([-1000, 1000]).range([885, 261]), label: "x-coordinate(m)",
    meas: measXByStep, est: estX, v0: truthX0, v1: truthX1, out: outX, timeLabelY: 1025 },
  { y: d3.scaleLinear().domain([-1000, 1000]).range([1677, 1052]), label: "y-coordinate(m)",
    meas: measYByStep, est: estY, v0: truthY0, v1: truthY1, out: outY, timeLabelY: 1833 }
];

panels.forEach(p => {
  const g = svg.append("g");
  const [yb, yt] = p.y.range();

  // box and inward ticks
  g.append("g").attr("transform", `translate(0,${yb})`)
    .call(d3.axisBottom(tS).tickValues(timeTicks).tickSizeInner(-21).tickSizeOuter(0)
      .tickPadding(38).tickFormat(String))
    .call(a => styleAxis(a, 4, 50));
  g.append("g").attr("transform", `translate(0,${yt})`)
    .call(d3.axisTop(tS).tickValues(timeTicks).tickSizeInner(-21).tickSizeOuter(0).tickFormat(""))
    .call(a => styleAxis(a, 4, 50));
  g.append("g").attr("transform", `translate(${tS(0)},0)`)
    .call(d3.axisLeft(p.y).tickValues(coordTicks).tickSizeInner(-21).tickSizeOuter(0)
      .tickPadding(19).tickFormat(String))
    .call(a => styleAxis(a, 4, 50));
  g.append("g").attr("transform", `translate(${tS(100)},0)`)
    .call(d3.axisRight(p.y).tickValues(coordTicks).tickSizeInner(-21).tickSizeOuter(0).tickFormat(""))
    .call(a => styleAxis(a, 4, 50));

  // measures
  const h = 14;
  const marks = [];
  p.meas.forEach((s, k) =>
    decodeMeasures(s, measFineByStep[k]).forEach(v => marks.push([timeSteps[k], v])));
  g.append("path")
    .attr("d", marks.map(([t, v]) => {
      const x = tS(t), y = p.y(v);
      return `M${x - h},${y - h}L${x + h},${y + h}M${x - h},${y + h}L${x + h},${y - h}`;
    }).join(""))
    .attr("fill", "none").attr("stroke", CLUTTER).attr("stroke-width", 4.5);

  // true tracks
  const line = d3.line().x(d => tS(d[0])).y(d => p.y(d[1]));
  g.selectAll(".truth").data(idx).join("path").attr("class", "truth")
    .attr("d", i => line([[truthBirth[i], p.v0[i]], [truthDeath[i], p.v1[i]]]))
    .attr("fill", "none").attr("stroke", "#000").attr("stroke-width", 5);

  // estimates
  p.est.forEach((vals, s) => {
    g.append("g").attr("fill", estColor[s])
      .selectAll("circle").data(vals).join("circle")
      .attr("cx", (v, k) => tS(estFirstT[s] + k))
      .attr("cy", v => p.y(v))
      .attr("r", 9.5);
  });
  g.append("g").selectAll("circle").data(outT).join("circle")
    .attr("cx", t => tS(t)).attr("cy", (t, k) => p.y(p.out[k]))
    .attr("fill", (t, k) => outColor[k]).attr("r", 9.5);

  label(1848, (yb + yt) / 2, p.label, 55, true);
  label(3025, p.timeLabelY, "time(s)", 55, false);
});

// legend
const lg = svg.append("g");
lg.append("rect").attr("x", 3434).attr("y", 23).attr("width", 586).attr("height", 208)
  .attr("fill", "#fff").attr("stroke", INK).attr("stroke-width", 3.5);
lg.append("circle").attr("cx", 3603).attr("cy", 64).attr("r", 8).attr("fill", "#79ab80");
lg.append("line").attr("x1", 3513).attr("x2", 3695).attr("y1", 127).attr("y2", 127)
  .attr("stroke", "#000").attr("stroke-width", 7);
lg.append("path").attr("d", "M3592,178L3614,200M3592,200L3614,178")
  .attr("stroke", CLUTTER).attr("stroke-width", 3.5).attr("fill", "none");
[["estimates", 80], ["true tracks", 139], ["measures", 199]].forEach(([t, y]) => {
  lg.append("text").attr("x", 3710).attr("y", y)
    .attr("font-family", SANS).attr("font-size", 48).attr("fill", "#000").text(t);
});

// panel captions
[["a", 800], ["b", 2980]].forEach(([c, x]) => {
  const t = svg.append("text").attr("x", x).attr("y", 1925).attr("text-anchor", "middle")
    .attr("font-family", SERIF).attr("font-size", 76).attr("fill", "#000");
  t.append("tspan").text("(");
  t.append("tspan").attr("font-weight", "bold").text(c);
  t.append("tspan").text(")");
});
</script>
</body>
</html>
